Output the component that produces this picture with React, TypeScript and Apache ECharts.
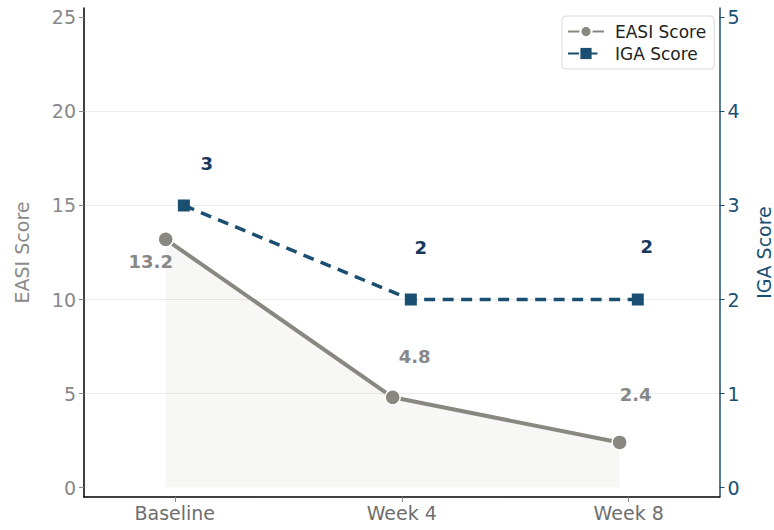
import React, { useEffect, useRef } from "react";
import * as echarts from "echarts";

const categories = ["Baseline", "Week 4", "Week 8"];
const easiScores = [13.2, 4.8, 2.4];
const igaScores = [3, 2, 2];
const easiTicks = [0, 5, 10, 15, 20, 25];
const igaTicks = [0, 1, 2, 3, 4, 5];
const categoryTicks = [0, 1, 2];

const X_SHIFT = 0.04;
const easiLabelOffsets = [[-15, 22], [22, -41], [16, -48]];
const igaLabelOffsets = [[23, -42], [10, -52], [9, -53]];

const FONT = "DejaVu Sans";
const EASI_COLOR = "#898880";
const IGA_COLOR = "#1b4f72";
const IGA_LABEL = "#15395e";

export default function App() {
  const ref = useRef<HTMLDivElement>(null);
  useEffect(() => {
    if (!ref.current) return;
    const chart = echarts.init(ref.current, null, { renderer: "svg" });
    const easiData = easiScores.map((v, i) => ({
      value: [i - X_SHIFT, v],
      label: { offset: easiLabelOffsets[i] },
    }));
    const igaData = igaScores.map((v, i) => ({
      value: [i + X_SHIFT, v],
      label: { offset: igaLabelOffsets[i] },
    }));
    chart.setOption({
      animation: false,
      backgroundColor: "#ffffff",
      textStyle: { fontFamily: FONT },
      grid: { left: 84, right: 54.5, top: 8, bottom: 33, outerBoundsMode: "none", containLabel: false },
      legend: {
        left: 562,
        top: 16,
        orient: "vertical",
        itemWidth: 36,
        itemHeight: 14,
        itemGap: 5,
        padding: [7, 8, 7, 5],
        backgroundColor: "#ffffff",
        borderColor: "#d9d9d9",
        borderWidth: 1,
        borderRadius: 4,
        textStyle: { fontSize: 17, color: "#222222", fontFamily: FONT, padding: [0, 0, 0, 6] },
        data: ["EASI Score", "IGA Score"],
      },
      xAxis: {
        type: "value",
        min: -0.4,
        max: 2.4,
        axisLine: { show: true, onZero: false, lineStyle: { color: "#000000", width: 1.5 } },
        axisTick: { show: true, customValues: categoryTicks, length: 5, lineStyle: { color: "#888888" } },
        axisLabel: {
          customValues: categoryTicks,
          formatter: (v: number) => categories[Math.round(v)] ?? "",
          fontSize: 19,
          color: "#6e6e6e",
          fontFamily: FONT,
          margin: 6,
        },
        splitLine: { show: false },
      },
      yAxis: [
        {
          type: "value",
          position: "left",
          min: -0.5,
          max: 25.5,
          name: "EASI Score",
          nameLocation: "middle",
          nameRotate: 90,
          nameGap: 53,
          nameTextStyle: { fontSize: 19, color: "#8a8a8a", fontFamily: FONT },
          axisLine: { show: true, onZero: false, lineStyle: { color: "#000000", width: 1.5 } },
          axisTick: { show: true, customValues: easiTicks, length: 5, lineStyle: { color: "#888888" } },
          axisLabel: { customValues: easiTicks, fontSize: 19, color: "#888888", fontFamily: FONT, margin: 8 },
          splitLine: { show: true, showMinLine: false, showMaxLine: false, lineStyle: { color: "#ebebeb", width: 1 } },
        },
        {
          type: "value",
          position: "right",
          min: -0.1,
          max: 5.1,
          name: "IGA Score",
          nameLocation: "middle",
          nameRotate: 90,
          nameGap: 35,
          nameTextStyle: { fontSize: 19, color: IGA_COLOR, fontFamily: FONT },
          axisLine: { show: true, onZero: false, lineStyle: { color: IGA_COLOR, width: 1.5 } },
          axisTick: { show: true, customValues: igaTicks, length: 5, lineStyle: { color: IGA_COLOR } },
          axisLabel: { customValues: igaTicks, fontSize: 19, color: IGA_COLOR, fontFamily: FONT, margin: 8 },
          splitLine: { show: false },
        },
      ],
      series: [
        {
          name: "EASI Score",
          type: "line",
          yAxisIndex: 0,
          data: easiData,
          symbol: "circle",
          symbolSize: 15,
          z: 2,
          lineStyle: { color: EASI_COLOR, width: 4 },
          itemStyle: { color: EASI_COLOR, borderColor: "#ffffff", borderWidth: 1.5 },
          areaStyle: { color: "rgba(137,136,128,0.1)", origin: "auto" },
          label: {
            show: true,
            position: "inside",
            formatter: (p: any) => p.value[1].toFixed(1),
            fontSize: 18,
            fontWeight: "bold",
            color: "#888888",
            fontFamily: FONT,
          },
        },
        {
          name: "IGA Score",
          type: "line",
          yAxisIndex: 1,
          data: igaData,
          symbol: "rect",
          symbolSize: 12,
          z: 3,
          lineStyle: { color: IGA_COLOR, width: 3.5, type: [11, 7.5] },
          itemStyle: { color: IGA_COLOR },
          label: {
            show: true,
            position: "inside",
            formatter: (p: any) => String(p.value[1]),
            fontSize: 18,
            fontWeight: "bold",
            color: IGA_LABEL,
            fontFamily: FONT,
          },
        },
      ],
    });
    return () => chart.dispose();
  }, []);
  return <div ref={ref} style={{ width: 774, height: 530, position: "absolute", left: 0, top: 0 }} />;
}
